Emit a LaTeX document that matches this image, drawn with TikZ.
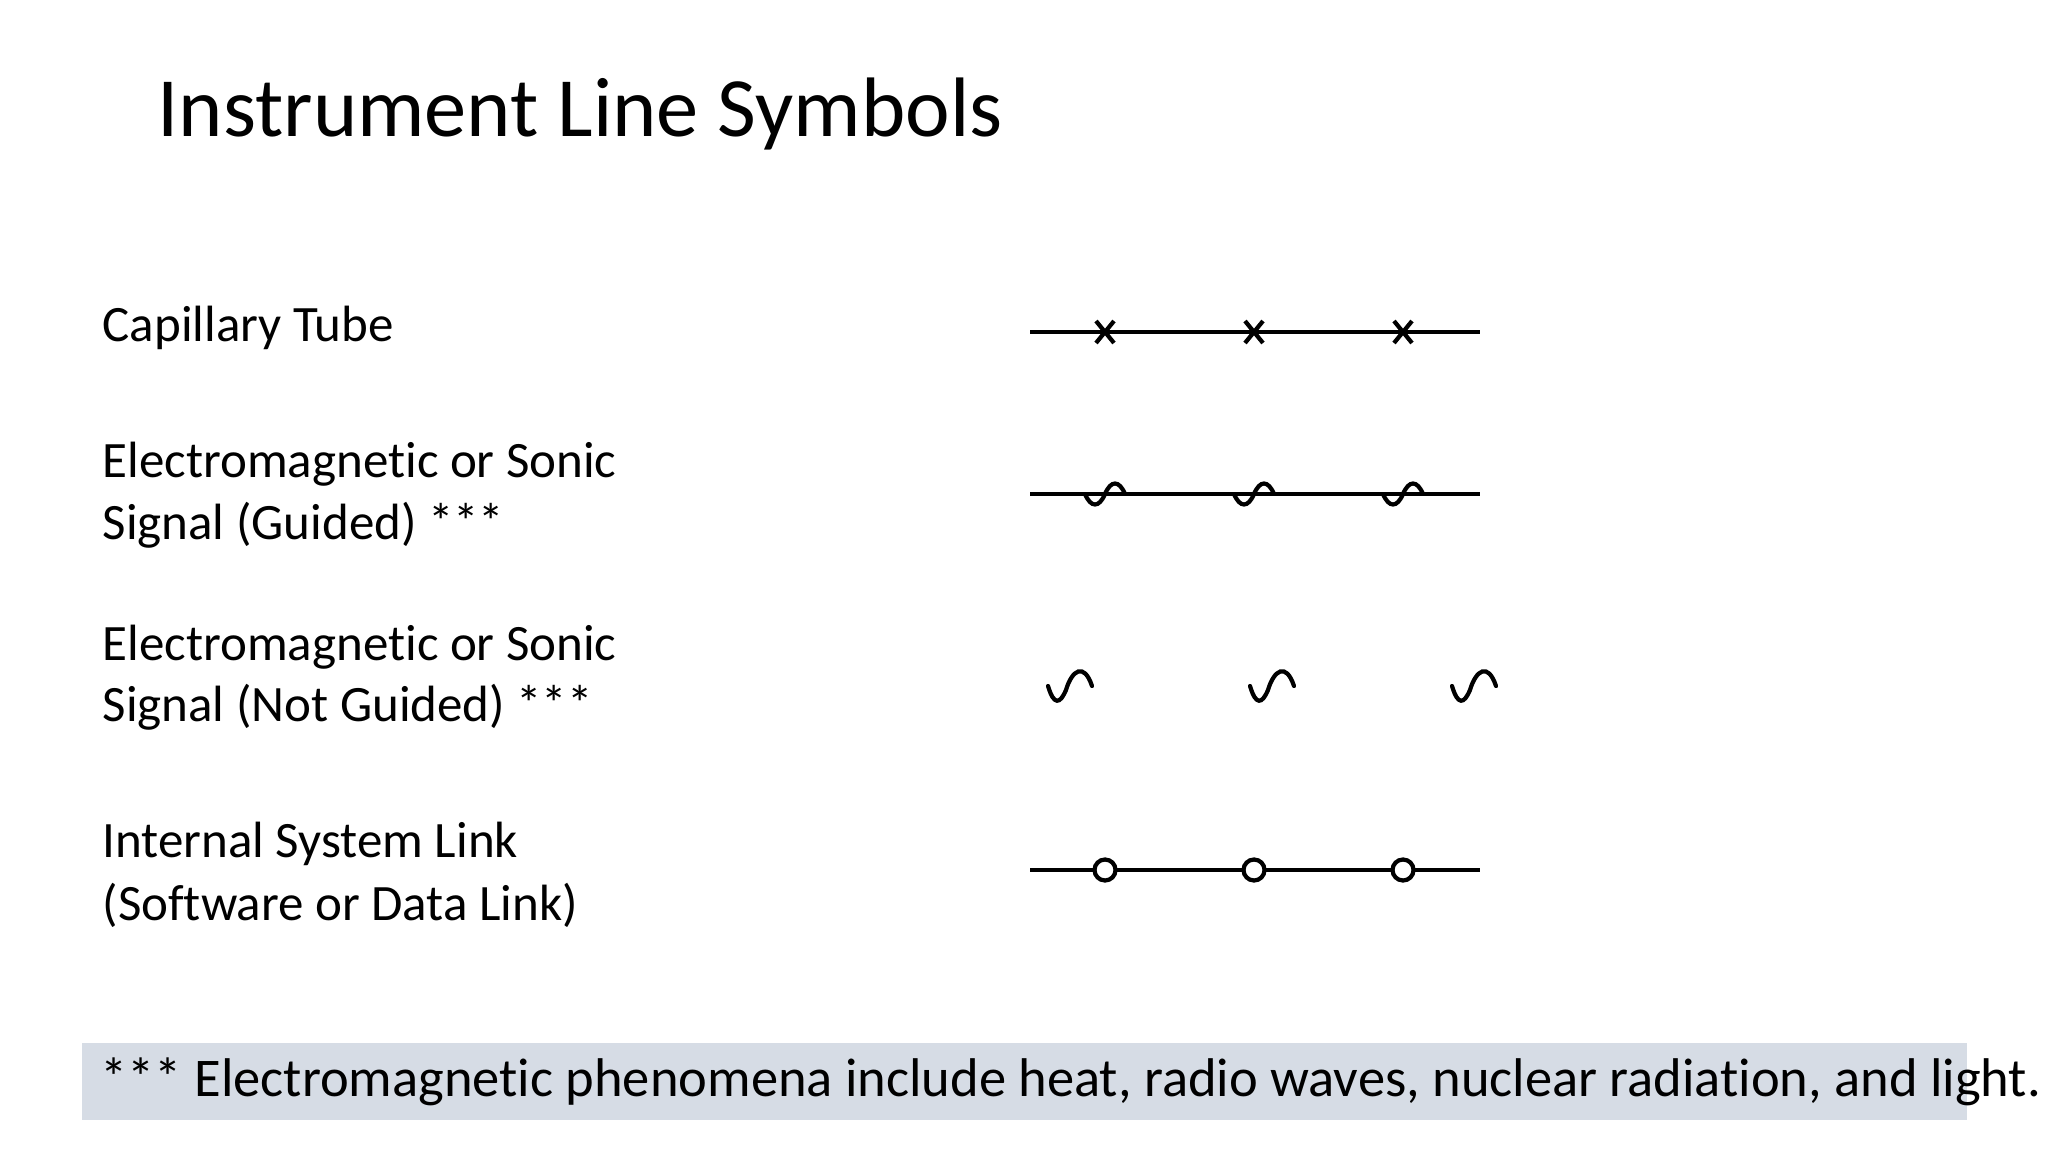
\documentclass[tikz,border=0pt]{standalone}
\usepackage{fontspec}
\setmainfont{Carlito}[RawFeature={-liga}]
\begin{document}
\begin{tikzpicture}[x=0.01cm,y=-0.01cm,
  sym/.style={line width=1.2pt,black},
  lbl/.style={anchor=base west,inner sep=0pt,font=\fontsize{14.5}{18}\selectfont,align=left},
  ttl/.style={anchor=base west,inner sep=0pt,font=\fontsize{24}{28}\selectfont}]
\useasboundingbox (0,0) rectangle (2048,1152);
\fill[white] (0,0) rectangle (2048,1152);
\node[ttl] (title) at (157,137) {Instrument Line Symbols};
\node[lbl] (l1) at (102,342) {Capillary Tube};
\node[lbl] (l2a) at (102,478) {Electromagnetic or Sonic};
\node[lbl] (l2b) at (102,540) {Signal (Guided) ***};
\node[lbl] (l3a) at (102,660) {Electromagnetic or Sonic};
\node[lbl] (l3b) at (102,721) {Signal (Not Guided) ***};
\node[lbl] (l4a) at (102,857) {Internal System Link};
\node[lbl] (l4b) at (102,920) {(Software or Data Link)};
\fill[fill={rgb,255:red,214;green,220;blue,229}] (82,1043) rectangle (1967,1120);
\node[lbl,font=\fontsize{15.5}{19}\selectfont] (foot) at (100,1096) {*** Electromagnetic phenomena include heat, radio waves, nuclear radiation, and light.};
% capillary
\draw[sym] (1030,332) -- (1480,332);
\foreach \x in {1105,1254,1403}{
  \draw[sym] (\x-9,321) -- (\x+9,343) (\x-9,343) -- (\x+9,321);}
% guided
\draw[sym] (1030,494) -- (1480,494);
\foreach \x in {1105,1254,1403}{
  \draw[sym] (\x-20,494) .. controls (\x-14,508) and (\x-6,508) .. (\x,494)
     .. controls (\x+6,480) and (\x+14,480) .. (\x+20,494);}
% not guided
\foreach \x in {1070,1272,1474}{
  \draw[sym,line cap=round] (\x-22,686) .. controls (\x-16,706) and (\x-10,704) .. (\x-4,690)
     .. controls (\x+2,670) and (\x+14,662) .. (\x+22,686);}
% internal link
\draw[sym] (1030,870) -- (1480,870);
\foreach \x in {1105,1254,1403}{
  \draw[sym,fill=white] (\x,870) circle (10.5);}
\end{tikzpicture}
\end{document}
